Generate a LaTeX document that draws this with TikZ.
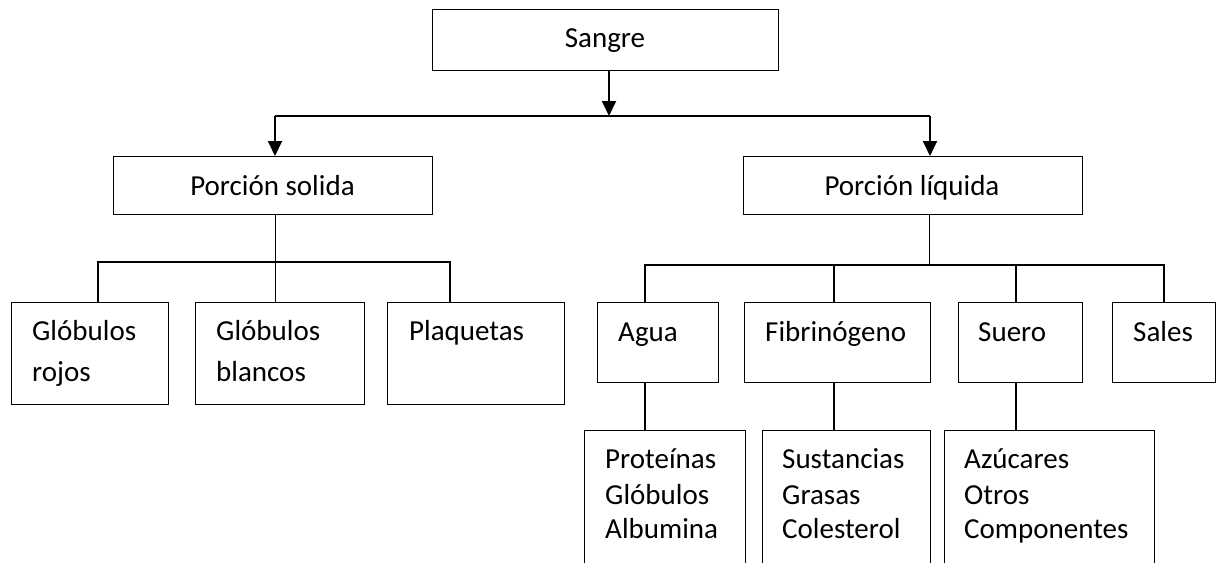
\documentclass[tikz,border=0pt]{standalone}
\usepackage{fontspec}
\setmainfont{Carlito}
\usetikzlibrary{arrows.meta}
\begin{document}
\begin{tikzpicture}[x=1pt,y=-1pt,
  box/.style={draw, line width=1.3pt, inner sep=0pt, anchor=north west},
  lbl/.style={anchor=base west, inner sep=0pt, font=\fontsize{29}{35}\selectfont},
  clbl/.style={anchor=base, inner sep=0pt, font=\fontsize{29}{35}\selectfont},
  conn/.style={line width=1.3pt},
  bus/.style={line width=1.8pt},
  arr/.style={line width=2pt, -{Triangle[width=14pt,length=15pt]}}]
\useasboundingbox (0,0) rectangle (1217,562);
\clip (0,0) rectangle (1217,562);
\fill[white] (0,0) rectangle (1217,562);

% boxes
\node[box, minimum width=346pt, minimum height=61pt] (sangre) at (432,9) {};
\node[box, minimum width=319pt, minimum height=58pt] (solida) at (113,156) {};
\node[box, minimum width=339pt, minimum height=58pt] (liquida) at (743,156) {};
\node[box, minimum width=157pt, minimum height=102pt] (rojos) at (11,302) {};
\node[box, minimum width=169pt, minimum height=102pt] (blancos) at (195,302) {};
\node[box, minimum width=177pt, minimum height=102pt] (plaq) at (387,302) {};
\node[box, minimum width=121pt, minimum height=80pt] (agua) at (597,302) {};
\node[box, minimum width=186pt, minimum height=80pt] (fibr) at (744,302) {};
\node[box, minimum width=124pt, minimum height=80pt] (suero) at (958,302) {};
\node[box, minimum width=103pt, minimum height=80pt] (sales) at (1112,302) {};
\node[box, minimum width=161pt, minimum height=160pt] (prot) at (584,430) {};
\node[box, minimum width=168pt, minimum height=160pt] (sust) at (762,430) {};
\node[box, minimum width=210pt, minimum height=160pt] (azuc) at (944,430) {};

% labels
\node[clbl] (tsangre) at (605,47) {Sangre};
\node[clbl] (tsolida) at (272.5,195) {Porción solida};
\node[clbl] (tliquida) at (912,195) {Porción líquida};
\node[lbl] (trojos1) at (32,340) {Glóbulos};
\node[lbl] (trojos2) at (32,381) {rojos};
\node[lbl] (tblancos1) at (216,340) {Glóbulos};
\node[lbl] (tblancos2) at (216,381) {blancos};
\node[lbl] (tplaq) at (409,340) {Plaquetas};
\node[lbl] (tagua) at (618,341) {Agua};
\node[lbl] (tfibr) at (765,341) {Fibrinógeno};
\node[lbl] (tsuero) at (978,341) {Suero};
\node[lbl] (tsales) at (1133,341) {Sales};
\node[lbl] (tprot1) at (605,468) {Proteínas};
\node[lbl] (tprot2) at (605,504) {Glóbulos};
\node[lbl] (tprot3) at (605,538) {Albumina};
\node[lbl] (tsust1) at (782,468) {Sustancias};
\node[lbl] (tsust2) at (782,504) {Grasas};
\node[lbl] (tsust3) at (782,538) {Colesterol};
\node[lbl] (tazuc1) at (964,468) {Azúcares};
\node[lbl] (tazuc2) at (964,504) {Otros};
\node[lbl] (tazuc3) at (964,538) {Componentes};

% top connectors
\coordinate (j0) at (609,116);
\coordinate (jl) at (275,116);
\coordinate (jr) at (930,116);
\draw[arr] (j0 |- sangre.south) -- (j0);
\draw[bus] (jl) -- (jr);
\draw[arr] (jl) -- (jl |- solida.north);
\draw[arr] (jr) -- (jr |- liquida.north);

% solid branch
\coordinate (s0) at (275.5,262);
\coordinate (s1) at (98,262);
\coordinate (s3) at (450,262);
\draw[conn] (s0 |- solida.south) -- (s0);
\draw[conn] (s1 |- rojos.north) -- (s1) -- (s3) -- (s3 |- plaq.north);
\draw[conn] (s0) -- (s0 |- blancos.north);

% liquid branch
\coordinate (l0) at (929.6,265);
\coordinate (l1) at (645,265);
\coordinate (l2) at (834,265);
\coordinate (l3) at (1016,265);
\coordinate (l4) at (1164,265);
\draw[conn] (l0 |- liquida.south) -- (l0);
\draw[conn] (l1 |- agua.north) -- (l1) -- (l4) -- (l4 |- sales.north);
\draw[conn] (l2) -- (l2 |- fibr.north);
\draw[conn] (l3) -- (l3 |- suero.north);
\draw[conn] (l1 |- agua.south) -- (l1 |- prot.north);
\draw[conn] (l2 |- fibr.south) -- (l2 |- sust.north);
\draw[conn] (l3 |- suero.south) -- (l3 |- azuc.north);
\end{tikzpicture}
\end{document}
